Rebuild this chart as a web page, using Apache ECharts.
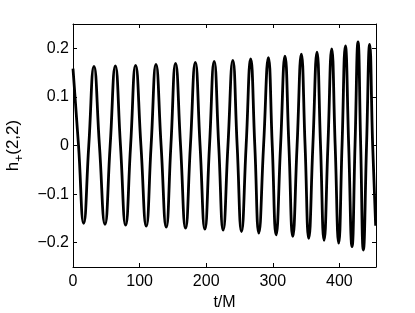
<!DOCTYPE html>
<html>
<head>
<meta charset="utf-8">
<script src="https://cdn.jsdelivr.net/npm/echarts@6/dist/echarts.min.js"></script>
<style>
  html, body { margin: 0; padding: 0; background: #fff; }
  #mychart { width: 415px; height: 313px; }
</style>
</head>
<body>
<div id="mychart"></div>
<script>
  // waveform: peaks, troughs and zero crossings (t/M)
  var startT = [0];
  var startH = [0.158];
  var peakT = [31.5, 63.6, 94, 124.6, 154, 183.7, 212, 240, 266.8, 293.4, 318.3, 342.9, 366.4, 388.5, 409, 428, 445.5];
  var peakH = [0.163, 0.164, 0.165, 0.167, 0.169, 0.171, 0.173, 0.175, 0.178, 0.181, 0.184, 0.188, 0.192, 0.199, 0.205, 0.213, 0.208];
  var troughT = [16, 48, 79, 110, 140, 169, 198, 225.5, 253, 279, 305, 330, 354, 377, 399, 419, 436];
  var troughH = [-0.160, -0.162, -0.164, -0.166, -0.168, -0.170, -0.172, -0.174, -0.177, -0.180, -0.184, -0.187, -0.191, -0.195, -0.201, -0.208, -0.215];
  var zeroT = [8.3, 23.7, 39.7, 55.8, 71.3, 86.5, 102, 117.3, 132.3, 147, 161.5, 176.3, 190.8, 205, 218.8, 232.7,
               246.5, 260, 273, 286.2, 299.2, 311.7, 324.2, 336.5, 348.5, 360.2, 371.7, 382.8, 393.7, 404, 414, 423.5,
               432, 440.8, 450];
  var endT = [454.5];
  var endH = [-0.165];

  var xTicks = [0, 100, 200, 300, 400];
  var yTicks = [-0.2, -0.1, 0, 0.1, 0.2];

  var pts = [];
  function addAll(ts, hs) {
    for (var i = 0; i < ts.length; i++) pts.push([ts[i], hs ? hs[i] : 0]);
  }
  addAll(startT, startH);
  addAll(peakT, peakH);
  addAll(troughT, troughH);
  addAll(zeroT, null);
  addAll(endT, endH);
  pts.sort(function (a, b) { return a[0] - b[0]; });

  var font = 'Liberation Sans, Arial, Helvetica, sans-serif';
  var black = '#000';

  var myChart = echarts.init(document.getElementById('mychart'), null, { renderer: 'canvas' });
  var opt = {
    animation: false,
    backgroundColor: '#fff',
    textStyle: { fontFamily: font, color: black },
    grid: { left: 73, right: 39, top: 24, bottom: 46, containLabel: false, outerBoundsMode: 'none' },
    xAxis: [{
      type: 'value',
      position: 'bottom',
      min: 0,
      max: 455,
      name: 't/M',
      nameLocation: 'middle',
      nameGap: 27,
      nameTextStyle: { fontSize: 16, color: black, fontFamily: font },
      axisLine: { show: true, onZero: false, lineStyle: { color: black, width: 1 } },
      axisTick: { show: true, inside: true, length: 4, customValues: xTicks, lineStyle: { color: black } },
      axisLabel: { show: true, customValues: xTicks, fontSize: 16, color: black, margin: 7, fontFamily: font },
      splitLine: { show: false }
    }, {
      type: 'value',
      position: 'top',
      min: 0,
      max: 455,
      axisLine: { show: true, onZero: false, lineStyle: { color: black, width: 1 } },
      axisTick: { show: true, inside: true, length: 4, customValues: xTicks, lineStyle: { color: black } },
      axisLabel: { show: false },
      splitLine: { show: false }
    }],
    yAxis: [{
      type: 'value',
      position: 'left',
      min: -0.25,
      max: 0.25,
      name: '{a|h}{s|+}{a|(2,2)}',
      nameLocation: 'middle',
      nameGap: 50,
      nameTextStyle: {
        fontSize: 17,
        color: black,
        fontFamily: font,
        rich: {
          a: { fontSize: 17, fontFamily: font, color: black, lineHeight: 19 },
          s: { fontSize: 12, fontFamily: font, color: black, lineHeight: 12, padding: [12, 0, 0, 0] }
        }
      },
      axisLine: { show: true, onZero: false, lineStyle: { color: black, width: 1 } },
      axisTick: { show: true, inside: true, length: 4, customValues: yTicks, lineStyle: { color: black } },
      axisLabel: {
        show: true, customValues: yTicks, fontSize: 16, color: black, margin: 4, fontFamily: font,
        formatter: function (v) { return (Math.round(v * 10) / 10).toString().replace('-', '\u2212'); }
      },
      splitLine: { show: false }
    }, {
      type: 'value',
      position: 'right',
      min: -0.25,
      max: 0.25,
      axisLine: { show: true, onZero: false, lineStyle: { color: black, width: 1 } },
      axisTick: { show: true, inside: true, length: 4, customValues: yTicks, lineStyle: { color: black } },
      axisLabel: { show: false },
      splitLine: { show: false }
    }],
    series: [{
      type: 'line',
      data: pts,
      smooth: 0.5,
      showSymbol: false,
      clip: true,
      lineStyle: { color: black, width: 2.8 }
    }]
  };
  myChart.setOption(opt);
</script>
</body>
</html>
